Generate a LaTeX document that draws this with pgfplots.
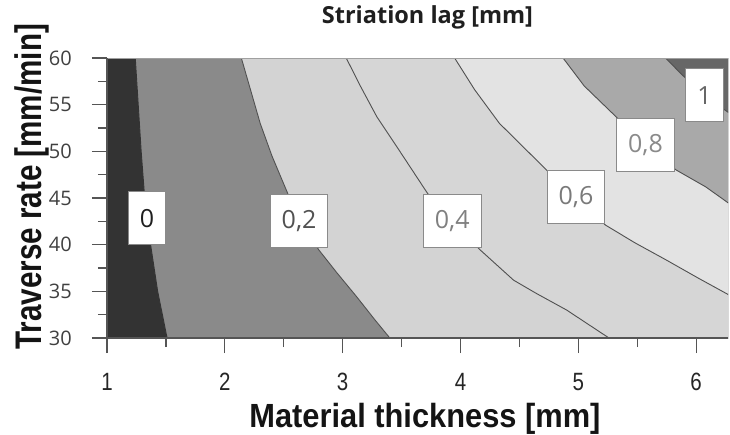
\documentclass[border=0pt]{standalone}
\usepackage{fontspec}
\setmainfont{Open Sans}
\newfontfamily\xlabfont{Liberation Sans}[FakeStretch=0.92]
\newfontfamily\ylabfont{Liberation Sans}[FakeStretch=0.8]
\newfontfamily\xtickfont{Liberation Sans}[FakeStretch=0.82]
\usepackage{pgfplots}
\pgfplotsset{compat=1.18}
\definecolor{axgray}{HTML}{555555}
\definecolor{topgray}{HTML}{A0A0A0}
\definecolor{boxgray}{HTML}{8A8A8A}
\definecolor{lvlline}{HTML}{505050}
\definecolor{bandA}{HTML}{333333}
\definecolor{bandB}{HTML}{8A8A8A}
\definecolor{bandC}{HTML}{D3D3D3}
\definecolor{bandD}{HTML}{D6D6D6}
\definecolor{bandE}{HTML}{E3E3E3}
\definecolor{bandF}{HTML}{A9A9A9}
\definecolor{bandG}{HTML}{676767}
\tikzset{
  clab/.style={fill=white,draw=boxgray,line width=1pt,inner xsep=11.5pt,inner ysep=0pt,
    minimum height=53pt,font=\fontsize{25}{30}\selectfont},
  lvl/.style={draw=lvlline,line width=0.9pt},
}

\begin{document}
\begin{tikzpicture}
\useasboundingbox (0,0) rectangle (730pt,434pt);
\begin{axis}[
  at={(107pt,96pt)}, anchor=south west,
  width=621pt, height=280pt, scale only axis,
  xmin=1, xmax=6.27, ymin=30, ymax=60,
  axis x line*=bottom, axis y line*=left,
  axis line style={draw=axgray,line width=1.3pt,-},
  axis on top,
  /pgf/number format/assume math mode=true,
  xtick={1,2,3,4,5,6}, ytick={30,35,40,45,50,55,60},
  minor xtick={1.5,2.5,3.5,4.5,5.5}, minor ytick={32.5,37.5,42.5,47.5,52.5,57.5},
  tick align=outside, major tick length=15pt, minor tick length=9pt,
  tick style={draw=axgray,line width=1.3pt},
  xticklabel style={font=\xtickfont\fontsize{25}{30}\selectfont,text=black!85,inner sep=0pt,anchor=north},
  yticklabel style={font=\fontsize{20}{24}\selectfont,text=black!75,inner sep=0pt,anchor=east},
  xticklabel shift=20pt, yticklabel shift=20pt,
  xlabel={Material thickness [mm]},
  xlabel style={at={(axis description cs:0.512,-0.318)},anchor=base,
    font=\xlabfont\bfseries\fontsize{33.5}{40}\selectfont,text=black!92},
  ylabel={Traverse rate [mm/min]},
  ylabel style={at={(axis description cs:-0.105,0.540)},anchor=base,
    font=\ylabfont\bfseries\fontsize{37}{44}\selectfont,text=black!92},
  title={Striation lag [mm]},
  title style={at={(axis description cs:0.516,1.102)},anchor=base,
    font=\bfseries\fontsize{23.5}{28}\selectfont,text=black!88},
]
% filled bands, lowest level first
\addplot[fill=bandA,draw=none] coordinates {(0.9,29) (6.5,29) (6.5,61) (0.9,61)};
\addplot[fill=bandB,draw=none] coordinates {
  (1.235,61) (1.24,60) (1.265,55) (1.29,50) (1.32,45) (1.37,40) (1.43,35) (1.51,30) (1.53,29)
  (6.5,29) (6.5,61)};
\addplot[fill=bandC,draw=none] coordinates {
  (2.13,61) (2.14,60) (2.22,56.5) (2.30,53) (2.40,49.5) (2.52,45.9) (2.63,42.6) (2.80,39.4)
  (2.95,37) (3.12,34.4) (3.27,32) (3.40,30) (3.47,29) (6.5,29) (6.5,61)};
\addplot[fill=bandD,draw=none] coordinates {
  (3.00,61) (3.03,60) (3.15,57) (3.29,53.7) (3.48,50.1) (3.72,45.5) (3.93,42.5) (4.17,39.4)
  (4.45,36.2) (4.64,34.8) (4.90,33.0) (5.26,30) (5.38,29) (6.5,29) (6.5,61)};
\addplot[fill=bandE,draw=none] coordinates {
  (3.93,61) (3.95,60) (4.12,56.6) (4.33,53) (4.53,50.5) (4.73,48.0) (4.98,45.1) (5.23,42.1)
  (5.48,40.2) (5.74,38.4) (6.02,36.4) (6.28,34.6) (6.5,33.1) (6.5,61)};
\addplot[fill=bandF,draw=none] coordinates {
  (4.85,61) (4.87,60) (5.05,57) (5.32,53.7) (5.57,50.7) (5.83,48.0) (6.08,46.2) (6.28,44.4)
  (6.5,42.4) (6.5,61)};
\addplot[fill=bandG,draw=none] coordinates {
  (5.72,61) (5.74,60) (5.88,58.2) (6.07,56.0) (6.28,54.1) (6.5,52.1) (6.5,61)};
% contour lines
\addplot[draw=bandA,line width=0.9pt] coordinates {
  (1.235,61) (1.24,60) (1.265,55) (1.29,50) (1.32,45) (1.37,40) (1.43,35) (1.51,30) (1.53,29)};
\addplot[lvl] coordinates {
  (2.13,61) (2.14,60) (2.22,56.5) (2.30,53) (2.40,49.5) (2.52,45.9) (2.63,42.6) (2.80,39.4)
  (2.95,37) (3.12,34.4) (3.27,32) (3.40,30) (3.47,29)};
\addplot[lvl] coordinates {
  (3.00,61) (3.03,60) (3.15,57) (3.29,53.7) (3.48,50.1) (3.72,45.5) (3.93,42.5) (4.17,39.4)
  (4.45,36.2) (4.64,34.8) (4.90,33.0) (5.26,30) (5.38,29)};
\addplot[lvl] coordinates {
  (3.93,61) (3.95,60) (4.12,56.6) (4.33,53) (4.53,50.5) (4.73,48.0) (4.98,45.1) (5.23,42.1)
  (5.48,40.2) (5.74,38.4) (6.02,36.4) (6.28,34.6) (6.5,33.1)};
\addplot[lvl] coordinates {
  (4.85,61) (4.87,60) (5.05,57) (5.32,53.7) (5.57,50.7) (5.83,48.0) (6.08,46.2) (6.28,44.4) (6.5,42.4)};
\addplot[lvl] coordinates {
  (5.72,61) (5.74,60) (5.88,58.2) (6.07,56.0) (6.28,54.1) (6.5,52.1)};
% level labels
\node[clab,text=black!88] at (axis cs:1.34,42.85) {0};
\node[clab,text=black!68] at (axis cs:2.63,42.5) {0,2};
\node[clab,text=black!50] at (axis cs:3.93,42.5) {0,4};
\node[clab,text=black!52] at (axis cs:4.98,45.1) {0,6};
\node[clab,text=black!46] at (axis cs:5.57,50.7) {0,8};
\node[clab,text=black!60] at (axis cs:6.07,56.0) {1};
\draw[topgray,line width=1.3pt] (rel axis cs:0,1) -- (rel axis cs:1,1);
\end{axis}
\end{tikzpicture}
\end{document}
